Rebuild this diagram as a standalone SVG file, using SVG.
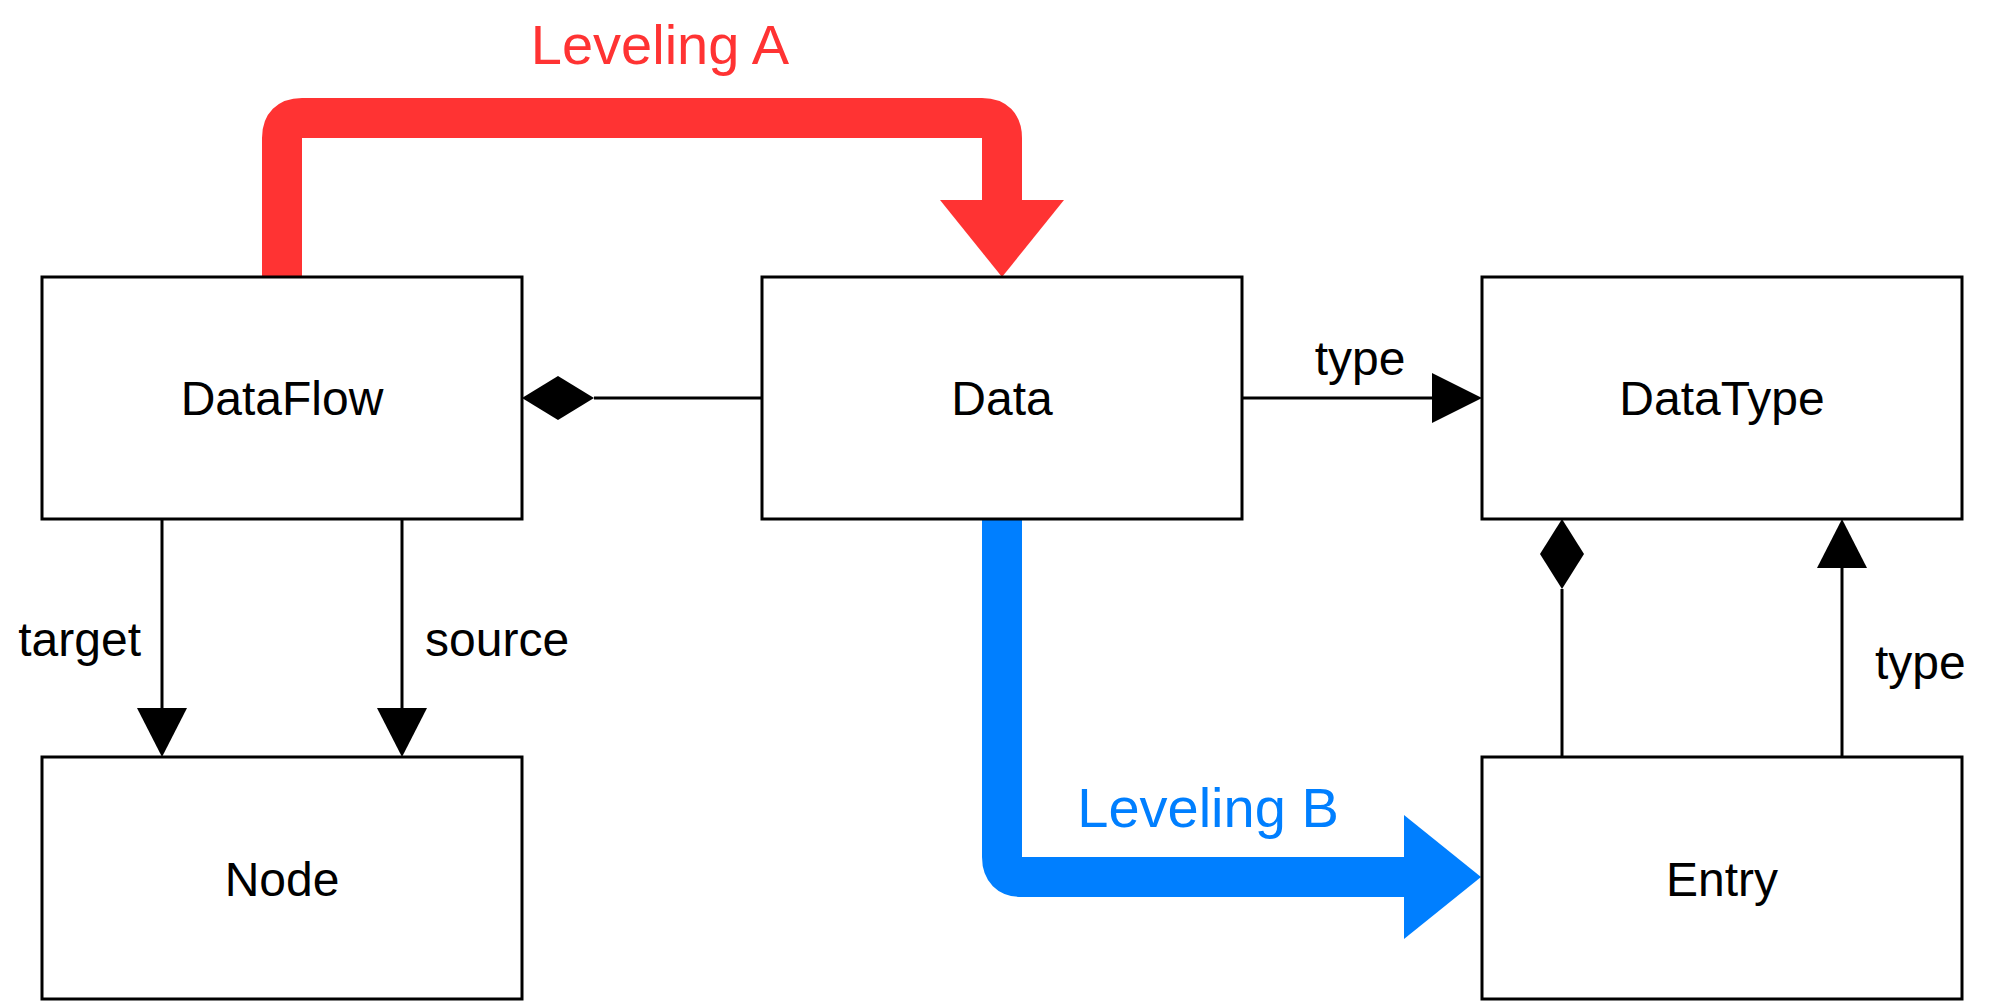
<svg xmlns="http://www.w3.org/2000/svg" width="2008" height="1004" viewBox="0 0 2008 1004">
<style>
.box{fill:#ffffff;stroke:#000000;stroke-width:3}
.lbl{font-family:"Liberation Sans",Arial,sans-serif;font-size:48px;fill:#000000}
.lev{font-family:"Liberation Sans",Arial,sans-serif;font-size:56px}
.ln{fill:none;stroke:#000000;stroke-width:3}
.hd{fill:#000000;stroke:none}
</style>
<rect width="2008" height="1004" fill="#ffffff"/>
<g id="connectors">
  <g id="leveling-a">
    <path d="M282,277 L282,138 Q282,118 302,118 L982,118 Q1002,118 1002,138 L1002,201" fill="none" stroke="#FF3333" stroke-width="40"/>
    <polygon points="940,200 1064,200 1002,277" fill="#FF3333"/>
    <text class="lev" x="660" y="64" text-anchor="middle" fill="#FF3333">Leveling A</text>
  </g>
  <g id="leveling-b">
    <path d="M1002,519 L1002,857 Q1002,877 1022,877 L1405,877" fill="none" stroke="#007FFF" stroke-width="40"/>
    <polygon points="1404,815 1481,877 1404,939" fill="#007FFF"/>
    <text class="lev" x="1208" y="827" text-anchor="middle" fill="#007FFF">Leveling B</text>
  </g>
  <g id="data-dataflow">
    <line class="ln" x1="762" y1="398" x2="594" y2="398"/>
    <polygon class="hd" points="522,398 558,376 594,398 558,420"/>
  </g>
  <g id="data-datatype">
    <line class="ln" x1="1242" y1="398" x2="1433" y2="398"/>
    <polygon class="hd" points="1432,373 1482,398 1432,423"/>
    <text class="lbl" x="1360" y="375" text-anchor="middle">type</text>
  </g>
  <g id="dataflow-node-target">
    <line class="ln" x1="162" y1="519" x2="162" y2="709"/>
    <polygon class="hd" points="137,708 187,708 162,757"/>
    <text class="lbl" x="141" y="656" text-anchor="end">target</text>
  </g>
  <g id="dataflow-node-source">
    <line class="ln" x1="402" y1="519" x2="402" y2="709"/>
    <polygon class="hd" points="377,708 427,708 402,757"/>
    <text class="lbl" x="425" y="656">source</text>
  </g>
  <g id="entry-datatype-comp">
    <line class="ln" x1="1562" y1="757" x2="1562" y2="589"/>
    <polygon class="hd" points="1562,519 1584,554 1562,589 1540,554"/>
  </g>
  <g id="entry-datatype-type">
    <line class="ln" x1="1842" y1="757" x2="1842" y2="567"/>
    <polygon class="hd" points="1817,568 1867,568 1842,519"/>
    <text class="lbl" x="1875" y="679">type</text>
  </g>
</g>
<g id="node-dataflow">
  <rect class="box" x="42" y="277" width="480" height="242"/>
  <text class="lbl" x="282" y="415" text-anchor="middle">DataFlow</text>
</g>
<g id="node-data">
  <rect class="box" x="762" y="277" width="480" height="242"/>
  <text class="lbl" x="1002" y="415" text-anchor="middle">Data</text>
</g>
<g id="node-datatype">
  <rect class="box" x="1482" y="277" width="480" height="242"/>
  <text class="lbl" x="1722" y="415" text-anchor="middle">DataType</text>
</g>
<g id="node-node">
  <rect class="box" x="42" y="757" width="480" height="242"/>
  <text class="lbl" x="282" y="896" text-anchor="middle">Node</text>
</g>
<g id="node-entry">
  <rect class="box" x="1482" y="757" width="480" height="242"/>
  <text class="lbl" x="1722" y="896" text-anchor="middle">Entry</text>
</g>
</svg>
